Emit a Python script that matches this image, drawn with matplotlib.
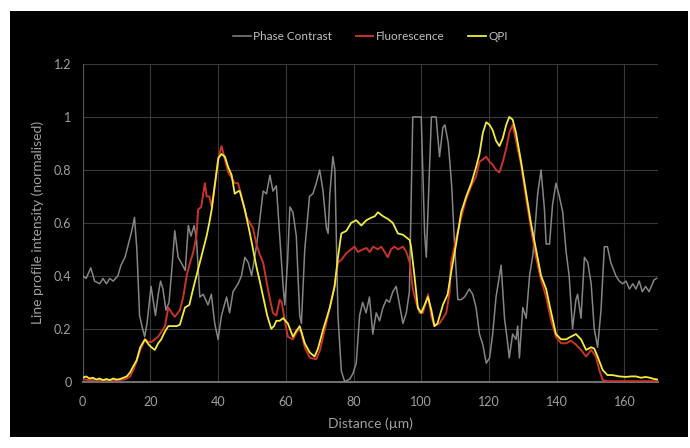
"""Line profile comparison: phase contrast vs fluorescence vs QPI."""

import matplotlib
matplotlib.use("Agg")
import matplotlib.pyplot as plt
from matplotlib.patches import Rectangle

# Phase contrast (grey)
pc_x = [0, 1, 2.4, 3.5, 5, 6, 7, 8, 9, 10.4, 11.3, 12.5, 13.5, 14.5, 15.3, 16, 16.8, 17.5, 18.3, 19,
        20.2, 21.5, 22.3, 23, 23.7, 24.6, 25.5, 26.3, 27.2, 28.2, 29.5, 30.3, 31.2, 32, 32.9, 33.6,
        34.6, 35.6, 37, 38, 39, 40, 41, 42.5, 43.4, 44.4, 45.9, 46.9, 47.9, 48.9, 49.9, 51.3, 52.3,
        53.3, 54.3, 55.3, 56.2, 57.2, 58.2, 59.2, 59.7, 60.5, 61.2, 62.1, 63.1, 64.1, 64.6, 65.6, 67,
        68, 69, 70, 71, 72, 72.5, 73, 73.9, 74.5, 75.4, 76.4, 77.4, 78.9, 79.8, 80.8, 81.8, 82.7,
        83.7, 84.7, 85.7, 86.7, 87.7, 88.7, 89.7, 90.6, 91.6, 92.6, 93.6, 94.6, 95.6, 96.5, 97.5,
        100, 101, 101.5, 102, 103, 104.4, 105.4, 106.4, 107, 108, 109, 109.8, 110.8, 111.8, 112.8,
        114.2, 115.2, 116.2, 117.2, 118.2, 119.2, 120.2, 121.1, 122.1, 123.1, 123.6, 124.6, 125.5,
        126, 127, 128, 128.5, 129, 130, 131, 132, 133, 134.4, 135.4, 136.4, 136.9, 137.9, 138.8,
        139.8, 140.8, 141.8, 142.8, 143.7, 144.7, 145.7, 146.2, 147.2, 148.2, 149.2, 150.2, 151.1,
        152.1, 153.1, 154.1, 155, 156, 157.5, 158.5, 159.5, 160.5, 161.5, 162.5, 163.4, 164.4,
        165.3, 166.3, 167.3, 168.3, 168.8, 169.5]
pc_y = [0.40, 0.39, 0.43, 0.38, 0.37, 0.39, 0.37, 0.39, 0.38, 0.40, 0.44, 0.47, 0.52, 0.57, 0.62,
        0.50, 0.25, 0.21, 0.17, 0.22, 0.36, 0.25, 0.33, 0.38, 0.35, 0.27, 0.30, 0.42, 0.57, 0.47,
        0.44, 0.42, 0.59, 0.55, 0.59, 0.54, 0.32, 0.33, 0.29, 0.33, 0.22, 0.16, 0.25, 0.32, 0.26,
        0.34, 0.37, 0.40, 0.47, 0.45, 0.40, 0.51, 0.61, 0.72, 0.71, 0.78, 0.72, 0.74, 0.55, 0.36,
        0.29, 0.45, 0.66, 0.64, 0.55, 0.25, 0.22, 0.50, 0.70, 0.71, 0.75, 0.80, 0.72, 0.58, 0.56,
        0.71, 0.85, 0.80, 0.25, 0.04, 0.0, 0.01, 0.03, 0.07, 0.25, 0.30, 0.26, 0.32, 0.18, 0.26,
        0.23, 0.28, 0.31, 0.30, 0.34, 0.36, 0.29, 0.22, 0.26, 0.34, 1.0, 1.0, 0.56, 0.47, 0.65,
        1.0, 1.0, 0.85, 0.96, 0.97, 0.90, 0.74, 0.53, 0.31, 0.31, 0.32, 0.35, 0.33, 0.28, 0.18,
        0.14, 0.07, 0.09, 0.18, 0.32, 0.40, 0.44, 0.24, 0.15, 0.09, 0.18, 0.16, 0.21, 0.09, 0.28,
        0.24, 0.40, 0.48, 0.71, 0.80, 0.65, 0.52, 0.52, 0.67, 0.75, 0.70, 0.64, 0.49, 0.40, 0.20,
        0.31, 0.33, 0.24, 0.47, 0.45, 0.37, 0.20, 0.13, 0.27, 0.51, 0.51, 0.45, 0.40, 0.38, 0.37,
        0.38, 0.35, 0.37, 0.35, 0.38, 0.34, 0.36, 0.34, 0.37, 0.385, 0.39]

# Fluorescence (red)
fl_x = [0, 2, 4, 6, 8, 10, 12, 13, 14, 15, 16, 17, 18.4, 19.5, 20.3, 21.3, 22.3, 23.3, 24.3, 25.3,
        26.3, 27.2, 28.7, 29.7, 30.7, 31.7, 32.6, 33.6, 34.1, 35, 36.1, 36.6, 37.4, 38.1, 39.1, 40,
        41, 42, 43, 44, 44.9, 45.9, 46.9, 48.4, 49.4, 50.3, 51.3, 52.3, 53.3, 54.7, 55.5, 56.2,
        57.2, 58.2, 58.8, 59.7, 60.6, 62.1, 63.6, 64.5, 65.6, 67.1, 69, 70.1, 71.5, 73, 74.4, 75.4,
        76.4, 77.9, 79.3, 80.3, 81.3, 82.8, 83.8, 84.8, 85.8, 87.2, 88.2, 89.2, 90.1, 91.1, 92.1,
        93.1, 94.6, 95.6, 96.6, 97.5, 98.5, 99.5, 100.5, 102, 103, 103.9, 105.4, 107.4, 108.4,
        108.8, 110.3, 111.8, 113.3, 114.8, 116.2, 117.2, 118.2, 119.2, 120.2, 121.1, 122.1, 123.1,
        124.1, 125.1, 126, 127, 128, 129.5, 131, 132.4, 133.9, 135.4, 136.9, 138.4, 139.8, 141.3,
        142.8, 144.2, 145.7, 147.2, 148.7, 150.2, 151.6, 152.6, 153.6, 155, 160, 165, 170]
fl_y = [0.010, 0.005, 0.008, 0.004, 0.006, 0.005, 0.008, 0.012, 0.02, 0.045, 0.08, 0.12, 0.16,
        0.15, 0.15, 0.16, 0.17, 0.19, 0.21, 0.28, 0.26, 0.245, 0.27, 0.32, 0.40, 0.45, 0.486, 0.55,
        0.65, 0.66, 0.75, 0.70, 0.70, 0.66, 0.75, 0.84, 0.89, 0.84, 0.79, 0.77, 0.75, 0.75, 0.70,
        0.62, 0.60, 0.58, 0.52, 0.48, 0.45, 0.35, 0.30, 0.26, 0.25, 0.31, 0.30, 0.23, 0.17, 0.16,
        0.196, 0.19, 0.13, 0.09, 0.085, 0.12, 0.196, 0.28, 0.36, 0.45, 0.46, 0.486, 0.50, 0.51,
        0.49, 0.50, 0.505, 0.49, 0.51, 0.50, 0.51, 0.49, 0.47, 0.50, 0.51, 0.50, 0.51, 0.49, 0.45,
        0.35, 0.30, 0.26, 0.26, 0.33, 0.245, 0.21, 0.22, 0.26, 0.34, 0.45, 0.54, 0.62, 0.69, 0.74,
        0.776, 0.83, 0.84, 0.85, 0.83, 0.82, 0.80, 0.79, 0.83, 0.88, 0.94, 0.97, 0.91, 0.82, 0.69,
        0.58, 0.47, 0.385, 0.32, 0.23, 0.17, 0.145, 0.145, 0.155, 0.14, 0.12, 0.095, 0.12, 0.095,
        0.044, 0.006, 0.002, 0.002, 0.002, 0.002]

# QPI (yellow)
qpi_x = [0, 1, 2, 3, 4, 5, 6, 7, 8, 9, 10, 11, 12, 13, 14, 15, 15.9, 17, 18.4, 19.5, 20.3, 21.3,
         22.3, 23.2, 24.3, 25.3, 26.5, 27.7, 28.7, 29.5, 30.2, 31.5, 32.6, 33.6, 34.6, 35.6, 36.6,
         37.4, 38.1, 39.1, 40.1, 41, 42, 43, 44, 44.9, 46, 46.4, 47.9, 49.4, 51.3, 52.3, 53.3,
         54.5, 55.7, 56.5, 57.2, 58.2, 59.2, 60.6, 62.1, 63, 64.1, 65.6, 67.1, 68.5, 69.5, 71, 73,
         74.4, 75.4, 76.4, 77.9, 79.3, 80.8, 82.3, 83.8, 85.3, 86.3, 87.2, 88.7, 90.1, 91.6, 93.1,
         94.6, 96.6, 97, 98, 99, 100, 101, 102, 103, 103.9, 104.8, 106.4, 107.8, 108.8, 110.3,
         111.8, 113.3, 114.8, 116.2, 117.2, 118.2, 119.2, 120.2, 121.1, 122.1, 123.1, 124.1, 125.1,
         126, 127, 128, 129.5, 131, 132.4, 133.9, 135.4, 136.9, 138.4, 139.8, 141.3, 142.8, 144.2,
         145.7, 147.2, 148.7, 150.2, 151.1, 152.1, 153.6, 155, 156.5, 158.5, 160.5, 162, 163.4,
         164.9, 166.3, 167.5, 168.8, 170]
qpi_y = [0.015, 0.02, 0.012, 0.015, 0.008, 0.012, 0.006, 0.01, 0.006, 0.012, 0.008, 0.01, 0.015,
         0.02, 0.035, 0.06, 0.08, 0.13, 0.16, 0.14, 0.13, 0.12, 0.145, 0.16, 0.19, 0.21, 0.21, 0.21,
         0.215, 0.25, 0.28, 0.29, 0.35, 0.40, 0.45, 0.50, 0.55, 0.60, 0.65, 0.75, 0.845, 0.86, 0.85,
         0.81, 0.78, 0.71, 0.72, 0.72, 0.65, 0.56, 0.435, 0.38, 0.32, 0.25, 0.20, 0.21, 0.23, 0.23,
         0.24, 0.22, 0.17, 0.19, 0.21, 0.145, 0.11, 0.095, 0.125, 0.196, 0.28, 0.36, 0.47, 0.56,
         0.57, 0.60, 0.61, 0.59, 0.61, 0.62, 0.625, 0.64, 0.625, 0.615, 0.60, 0.56, 0.555, 0.535,
         0.51, 0.40, 0.28, 0.26, 0.29, 0.32, 0.27, 0.21, 0.22, 0.29, 0.33, 0.41, 0.52, 0.64, 0.70,
         0.75, 0.81, 0.86, 0.94, 0.98, 0.97, 0.95, 0.91, 0.89, 0.92, 0.97, 1.0, 0.99, 0.94, 0.83,
         0.71, 0.60, 0.50, 0.40, 0.35, 0.26, 0.18, 0.16, 0.16, 0.17, 0.18, 0.16, 0.12, 0.13, 0.125,
         0.095, 0.044, 0.025, 0.025, 0.02, 0.018, 0.02, 0.02, 0.015, 0.018, 0.015, 0.01, 0.008]

x_ticks = [0, 20, 40, 60, 80, 100, 120, 140, 160]
y_ticks = [0, 0.2, 0.4, 0.6, 0.8, 1.0, 1.2]
y_tick_labels = ["0", "0.2", "0.4", "0.6", "0.8", "1", "1.2"]

TEXT = "#a0a0a0"
GRID = "#383838"

plt.rcParams["font.family"] = ["Lato", "DejaVu Sans"]

fig = plt.figure(figsize=(6.9, 4.48), dpi=100)
fig.patch.set_facecolor("white")
# black chart area inside a thin white margin
fig.patches.append(Rectangle((10 / 690, 1 - 437 / 448), 678 / 690, 426 / 448,
                             transform=fig.transFigure, facecolor="black",
                             edgecolor="none", zorder=-10))

ax = fig.add_axes([82.7 / 690, 1 - 381.7 / 448, 575.5 / 690, 317.7 / 448])
ax.set_zorder(1)
ax.set_facecolor("black")

ax.plot(pc_x, pc_y, color="#858585", linewidth=1.1, label="Phase Contrast", zorder=3)
ax.plot(fl_x, fl_y, color="#c8332a", linewidth=1.4, label="Fluorescence", zorder=4)
ax.plot(qpi_x, qpi_y, color="#f2ec3a", linewidth=1.3, label="QPI", zorder=5)

ax.set_xlim(0, 170)
ax.set_ylim(0, 1.2)
ax.set_xticks(x_ticks)
ax.set_yticks(y_ticks)
ax.set_yticklabels(y_tick_labels)
ax.grid(True, color=GRID, linewidth=0.8)
ax.set_axisbelow(True)
ax.tick_params(axis="x", length=0, colors=TEXT, labelsize=9, pad=10)
ax.tick_params(axis="y", length=0, colors=TEXT, labelsize=9, pad=8)

for side in ["top", "right"]:
    ax.spines[side].set_visible(False)
ax.spines["left"].set_color("#555555")
ax.spines["bottom"].set_color("#7a7a7a")
ax.spines["bottom"].set_linewidth(1.3)

ax.set_xlabel("Distance (µm)", color=TEXT, fontsize=10, labelpad=7)
ax.set_ylabel("Line profile intensity (normalised)", color=TEXT, fontsize=10, labelpad=7)

leg = ax.legend(loc="lower center", bbox_to_anchor=(0.5, 1.035), ncol=3, frameon=False,
                fontsize=8.5, handlelength=1.5, handletextpad=0.2, columnspacing=2.0)
for t in leg.get_texts():
    t.set_color("#bfbfbf")

fig.savefig("out.png", dpi=100, facecolor=fig.get_facecolor())
